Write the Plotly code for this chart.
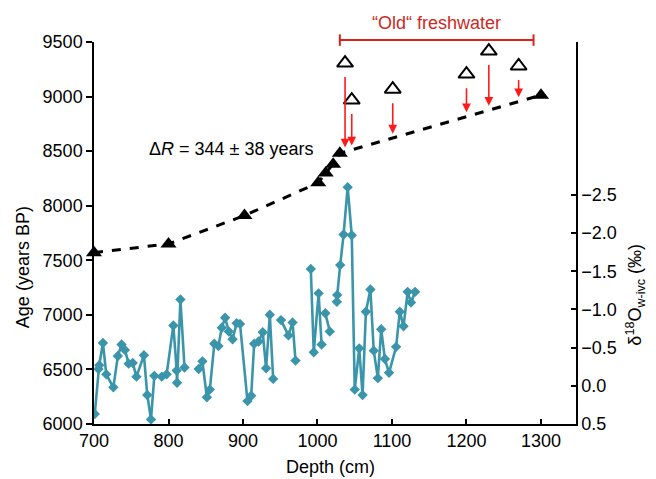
import numpy as np
import plotly.graph_objects as go

# ---------------- data ----------------
# Age model (black triangles), depth in cm, age in years BP
model_depth = [700, 800, 902, 1001, 1011, 1021, 1030, 1300]
model_age = [7570, 7650, 7910, 8210, 8300, 8380, 8480, 9013]

# "Old" freshwater-affected dates (open triangles)
old_depth = [1037, 1046, 1101, 1200, 1230, 1270]
old_age = [9307, 8968, 9068, 9206, 9417, 9280]

# d18O w-ivc record (None = gap in the line)
d18o_depth = [701, 706, 707, 712, 716.5, 726, 732, 737, 741.5, 746.5, 752, 757,
              767, 771.5, 776.5, 781, 791, 797.5, 806.5, 811, 811.5, 816, 821.5,
              None,
              840.5, 845.5, 851.5, 855.5, 861.5, 867, 871.5, 876, 881, 886, 891.5,
              896, 906, 911, 915, 921, 926.5, 931, 936, 940.5,
              None,
              951, 961, 966.5, 970.5,
              None,
              991, 995, 1001.5, 1005.5,
              None,
              1010.5, 1016.5,
              None,
              1026, 1026.5, 1030.5, 1035, 1040.5, 1046, 1050, 1056, 1060.5, 1065,
              1071, 1075.5, 1081, 1085.5, 1090.5, 1096, 1105.5, 1110.5, 1115.5,
              1121, 1125.5, 1131]
d18o_value = [0.37, -0.22, -0.27, -0.56, -0.15, 0.02, -0.39, -0.54, -0.47, -0.29, -0.30, -0.12,
              -0.40, 0.12, 0.44, -0.13, -0.12, -0.15, -0.79, -0.20, -0.04, -1.13, -0.24,
              None,
              -0.22, -0.32, 0.15, 0.05, -0.55, -0.52, -0.76, -0.89, -0.71, -0.61, -0.82,
              -0.81, 0.20, 0.13, -0.55, -0.58, -0.70, -0.23, -0.93, -0.09,
              None,
              -0.86, -0.66, -0.83, -0.33,
              None,
              -1.53, -0.44, -1.21, -0.54,
              None,
              -0.95, -0.71,
              None,
              -1.10, -1.19, -1.58, -1.98, -2.60, -1.97, 0.05, -0.49, 0.12, -0.97,
              -1.26, -0.46, -0.10, -0.74, -0.35, -0.17, -0.51, -0.97, -0.78,
              -1.23, -1.09, -1.23]

x_ticks = [700, 800, 900, 1000, 1100, 1200, 1300]
age_ticks = [6000, 6500, 7000, 7500, 8000, 8500, 9000, 9500]
d18o_tickvals = [-4.5, -2.5, -2.0, -1.5, -1.0, -0.5, 0.0, 0.5]
d18o_ticktext = ["", "\u22122.5", "\u22122.0", "\u22121.5", "\u22121.0", "\u22120.5", "0.0", "0.5"]

old_span = [1030, 1290]
delta_r_label = "\u0394<i>R</i> = 344 \u00b1 38 years"
old_label = "\u201cOld\u201c freshwater"

# ---------------- figure ----------------
FONT = "Liberation Sans, Arial, Helvetica, sans-serif"
TEAL = "#3a95ab"
RED = "#ff1a1a"
XR = [700, 1347]

fig = go.Figure()

fig.add_trace(go.Scatter(
    x=d18o_depth, y=d18o_value, yaxis="y2", mode="lines+markers",
    line=dict(color=TEAL, width=2.6),
    marker=dict(symbol="diamond", size=8, color=TEAL),
    connectgaps=False, showlegend=False))

fig.add_trace(go.Scatter(
    x=model_depth, y=model_age, mode="lines+markers",
    line=dict(color="black", width=3, dash="dash"),
    marker=dict(symbol="triangle-up", size=14, color="black"),
    showlegend=False, cliponaxis=False))

fig.add_trace(go.Scatter(
    x=old_depth, y=old_age, mode="markers",
    marker=dict(symbol="triangle-up", size=14, color="white",
                line=dict(color="black", width=2)),
    showlegend=False, cliponaxis=False))

annotations = []
for d, a in zip(old_depth, old_age):
    tip = float(np.interp(d, model_depth, model_age)) + 40
    annotations.append(dict(
        x=d, y=tip, xref="x", yref="y", ax=d, ay=a - 115, axref="x", ayref="y",
        text="", showarrow=True, arrowhead=2, arrowsize=1.1, arrowwidth=1.6,
        arrowcolor=RED))

annotations.append(dict(x=884, y=8517, xref="x", yref="y", text=delta_r_label,
                        xanchor="center", yanchor="middle",
                        showarrow=False, font=dict(family=FONT, size=18, color="black")))
annotations.append(dict(x=(old_span[0] + old_span[1]) / 2, y=1.05, xref="x", yref="paper",
                        text=old_label, showarrow=False, xanchor="center", yanchor="middle",
                        font=dict(family=FONT, size=18, color="#cc2a1f")))
annotations.append(dict(x=-0.147, y=0.411, xref="paper", yref="paper", text="Age (years BP)",
                        textangle=-90, showarrow=False, xanchor="center", yanchor="middle",
                        font=dict(family=FONT, size=18, color="black")))
annotations.append(dict(x=1.124, y=0.338, xref="paper", yref="paper",
                        text="\u03b4<sup>18</sup>O<sub>w-ivc</sub> (\u2030)",
                        textangle=-90, showarrow=False, xanchor="center", yanchor="middle",
                        font=dict(family=FONT, size=18, color="black")))
annotations.append(dict(x=0.49, y=-0.113, xref="paper", yref="paper", text="Depth (cm)",
                        showarrow=False, xanchor="center", yanchor="middle",
                        font=dict(family=FONT, size=18, color="black")))

# bracket for "Old" freshwater (paper coordinates derived from the x range)
def xp(d):
    return (d - XR[0]) / (XR[1] - XR[0])

shapes = [
    dict(type="line", xref="paper", yref="paper", x0=xp(old_span[0]), x1=xp(old_span[1]),
         y0=1.005, y1=1.005, line=dict(color="#e0201b", width=2)),
    dict(type="line", xref="paper", yref="paper", x0=xp(old_span[0]), x1=xp(old_span[0]),
         y0=0.99, y1=1.02, line=dict(color="#e0201b", width=2)),
    dict(type="line", xref="paper", yref="paper", x0=xp(old_span[1]), x1=xp(old_span[1]),
         y0=0.99, y1=1.02, line=dict(color="#e0201b", width=2)),
]

fig.update_layout(
    width=649, height=472,
    margin=dict(l=86, r=81, t=34, b=56),
    plot_bgcolor="white", paper_bgcolor="white",
    font=dict(family=FONT, size=18, color="black"),
    xaxis=dict(range=XR, tickvals=x_ticks, showgrid=False, zeroline=False,
               showline=True, linecolor="black", linewidth=1.5,
               ticks="inside", ticklen=5, tickwidth=1.5, tickcolor="black",
               tickfont=dict(family=FONT, size=18)),
    yaxis=dict(range=[6000, 9500], tickvals=age_ticks, showgrid=False, zeroline=False,
               showline=True, linecolor="black", linewidth=1.5,
               ticks="outside", ticklen=6, tickwidth=1.5, tickcolor="black",
               tickfont=dict(family=FONT, size=18)),
    yaxis2=dict(range=[0.5, -4.5], overlaying="y", side="right",
                tickvals=d18o_tickvals, ticktext=d18o_ticktext,
                showgrid=False, zeroline=False,
                showline=True, linecolor="black", linewidth=1.5,
                ticks="inside", ticklen=5, tickwidth=1.5, tickcolor="black",
                tickfont=dict(family=FONT, size=18)),
    annotations=annotations,
    shapes=shapes,
    showlegend=False,
)

fig.write_html("out.html")
